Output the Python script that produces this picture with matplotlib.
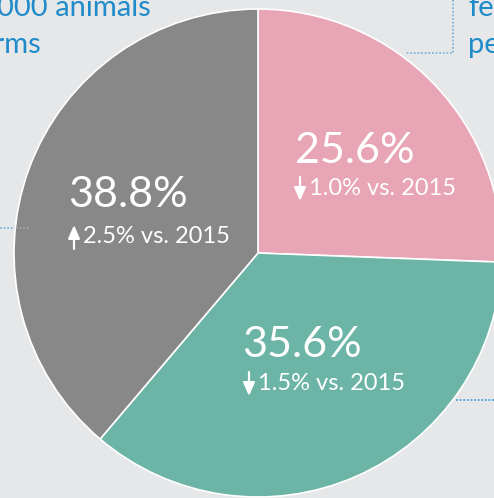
import matplotlib.pyplot as plt

# share of animals by segment (2016), change vs. 2015
shares = [25.6, 35.6, 38.8]
changes = ["1.0%", "1.5%", "2.5%"]
directions = ["down", "down", "up"]
colors = ["#e7a5b5", "#6cb4a5", "#888888"]

W, H = 494, 498
BG = "#e6e7e8"
BLUE = "#1f8bca"

fig = plt.figure(figsize=(W / 100, H / 100), dpi=100, facecolor=BG)
ax = fig.add_axes([0, 0, 1, 1])
ax.set_facecolor(BG)

font = "Lato"

# connector lines behind the pie
ax.plot([0, 30], [H - 228, H - 228], color="#7fb8dc", lw=1.3, ls=(0, (1, 1)), zorder=0)
ax.plot([456, W], [H - 400, H - 400], color="#4a9fd6", lw=1.3, ls=(0, (1, 1)), zorder=0)
ax.plot([453, 453, 405], [H, H - 53, H - 53], color="#7fb8dc", lw=1.3,
        ls=(0, (1, 1)), zorder=0)

cx, cy, r = 258, H - 253, 244
wedges, _ = ax.pie(shares, colors=colors, startangle=90, counterclock=False,
                   center=(cx, cy), radius=r, frame=True,
                   wedgeprops=dict(edgecolor="white", linewidth=1.2))
ax.set_xlim(0, W)
ax.set_ylim(0, H)
ax.set_aspect("equal")
ax.axis("off")

# little gray part of the left connector on the pie
ax.plot([16, 30], [H - 228, H - 228], color="#a5a5a5", lw=1.3, ls=(0, (1, 1)), zorder=3)

# labels: (x of big number, baseline big, x of arrow, baseline small)
label_pos = [
    (295, 163, 300, 195),
    (242, 357, 249, 390),
    (68, 207, 74, 243),
]
for share, ch, d, (x, yb, xa, ys) in zip(shares, changes, directions, label_pos):
    ax.text(x, H - yb, f"{share:.1f}%", color="white", fontsize=31, family=font,
            ha="left", va="baseline", zorder=5)
    ax.text(xa + 9, H - ys, f"{ch} vs. 2015", color="white", fontsize=17,
            family=font, ha="left", va="baseline", zorder=5)
    top, bot = H - ys + 18, H - ys - 6
    if d == "up":
        start, end = (xa, bot), (xa, top)
    else:
        start, end = (xa, top), (xa, bot)
    ax.annotate("", xy=end, xytext=start, zorder=5,
                arrowprops=dict(arrowstyle="-|>,head_length=0.8,head_width=0.35",
                                color="white", lw=1.6, shrinkA=0, shrinkB=0))

# cut-off annotation text around the chart
ax.text(151, H - 16, "000 animals", color=BLUE, fontsize=21, family=font,
        ha="right", va="baseline")
ax.text(41, H - 53, "farms", color=BLUE, fontsize=21, family=font,
        ha="right", va="baseline")
ax.text(468, H - 16, "fewer", color=BLUE, fontsize=21, family=font,
        ha="left", va="baseline")
ax.text(468, H - 53, "per", color=BLUE, fontsize=21, family=font,
        ha="left", va="baseline")

fig.savefig("out.png", dpi=100, facecolor=BG)
